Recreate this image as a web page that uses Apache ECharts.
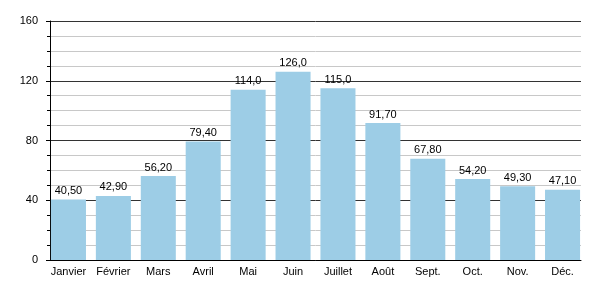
<!DOCTYPE html>
<html>
<head>
<meta charset="utf-8">
<script src="https://cdn.jsdelivr.net/npm/echarts@6/dist/echarts.min.js"></script>
<style>
  html, body { margin: 0; padding: 0; background: #fff; }
  #chart { width: 600px; height: 300px; }
</style>
</head>
<body>
<div id="chart"></div>
<script>
// mois et moyennes
const months = ['Janvier', 'Février', 'Mars', 'Avril', 'Mai', 'Juin', 'Juillet', 'Août', 'Sept.', 'Oct.', 'Nov.', 'Déc.'];
const values = [40.5, 42.9, 56.2, 79.4, 114.0, 126.0, 115.0, 91.7, 67.8, 54.2, 49.3, 47.1];
const yTicks = [0, 40, 80, 120, 160];

const chart = echarts.init(document.getElementById('chart'));

const font = 'Liberation Sans, Arial, sans-serif';

// grid 0 : barres (plus large pour coller les barres aux bords)
// grid 1 : axes + lignes de grille visibles
const option = {
    animation: false,
    textStyle: { fontFamily: font },
    grid: [
        { left: 46, right: 15, top: 21, bottom: 40 },
        { left: 50, right: 19, top: 21, bottom: 40 }
    ],
    xAxis: [{
        gridIndex: 0,
        type: 'category',
        data: months,
        axisLine: { show: false },
        axisTick: { show: false },
        axisLabel: { color: '#000', fontSize: 11, margin: 6, interval: 0 }
    }, {
        gridIndex: 1,
        type: 'category',
        data: months,
        axisLine: { lineStyle: { color: '#000', width: 1 } },
        axisTick: { show: false },
        axisLabel: { show: false }
    }],
    yAxis: [{
        gridIndex: 0,
        type: 'value',
        min: yTicks[0],
        max: yTicks[yTicks.length - 1],
        interval: 40,
        axisLine: { show: false },
        axisTick: { show: false },
        axisLabel: { show: false },
        splitLine: { show: false }
    }, {
        gridIndex: 1,
        type: 'value',
        min: yTicks[0],
        max: yTicks[yTicks.length - 1],
        interval: 40,
        axisLine: { show: true, lineStyle: { color: '#000', width: 1 } },
        axisTick: { show: true, length: 4, lineStyle: { color: '#000' } },
        minorTick: { show: true, splitNumber: 4, length: 3, lineStyle: { color: '#000' } },
        axisLabel: { color: '#000', fontSize: 11, margin: 12 },
        splitLine: { show: true, lineStyle: { color: '#333', width: 1 } },
        minorSplitLine: { show: true, lineStyle: { color: '#c8c8c8', width: 1 } }
    }],
    series: [{
        type: 'bar',
        xAxisIndex: 0,
        yAxisIndex: 0,
        z: 3,
        data: values,
        barCategoryGap: '22%',
        itemStyle: { color: '#9dcde6' },
        label: {
            show: true,
            position: 'top',
            distance: 3,
            color: '#000',
            fontSize: 11,
            formatter: p => p.value.toPrecision(4).replace('.', ',')
        }
    }]
};

chart.setOption(option);
</script>
</body>
</html>
